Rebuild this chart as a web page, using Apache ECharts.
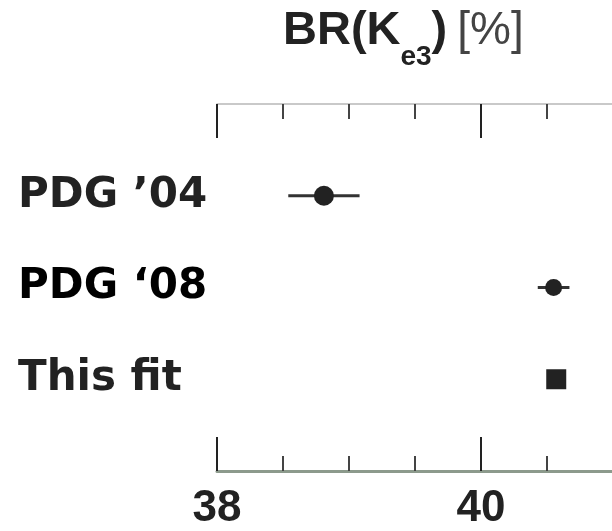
<!DOCTYPE html>
<html>
<head>
<meta charset="utf-8">
<script src="https://cdn.jsdelivr.net/npm/echarts@6/dist/echarts.min.js"></script>
<style>
  html, body { margin: 0; padding: 0; background: #fff; }
  #chart { width: 612px; height: 531px; }
</style>
</head>
<body>
<div id="chart"></div>
<script>
// Measurements of BR(K_e3), in percent
const categories = ['PDG \u201904', 'PDG \u201808', 'This fit'];
const values = [38.81, 40.55, 40.57];
const errors = [0.27, 0.12, 0];
const markerShapes = ['circle', 'circle', 'rect'];
const markerSizes = [20, 17, 20];
const xTickLabels = ['38', '40'];

const chart = echarts.init(document.getElementById('chart'), null, { renderer: 'canvas' });

const pointData = values.map((v, i) => ({
  value: [v, i + 1],
  symbol: markerShapes[i],
  symbolSize: markerSizes[i]
}));
const barData = values.map((v, i) => [v, i + 1, errors[i]]);

const xAxisBase = {
  type: 'value',
  min: 38,
  max: 42,
  interval: 2,
  splitLine: { show: false },
  axisTick: { show: true, inside: true, length: 34, lineStyle: { color: '#222', width: 2 } },
  minorTick: { show: true, splitNumber: 4, length: 15, lineStyle: { color: '#444', width: 2 } },
  minorSplitLine: { show: false }
};

chart.setOption({
  animation: false,
  backgroundColor: '#fff',
  title: {
    text: '{b|BR(K}{s|e3}{b|)}  {r|[%]}',
    left: 283,
    top: 8,
    padding: 0,
    textStyle: {
      rich: {
        b: { fontFamily: 'Liberation Sans', fontWeight: 'bold', fontSize: 47, lineHeight: 47, color: '#222' },
        s: { fontFamily: 'Liberation Sans', fontWeight: 'bold', fontSize: 28, lineHeight: 28, color: '#222', padding: [52, 0, 0, 0] },
        r: { fontFamily: 'Liberation Sans', fontWeight: 'normal', fontSize: 46, lineHeight: 47, color: '#444' }
      }
    }
  },
  grid: { left: 217, top: 104, width: 528, height: 367, containLabel: false, outerBoundsMode: 'none' },
  xAxis: [
    Object.assign({}, xAxisBase, {
      position: 'top',
      axisLine: { show: true, lineStyle: { color: '#b8b8b8', width: 1.5 } },
      axisLabel: { show: false }
    }),
    Object.assign({}, xAxisBase, {
      position: 'bottom',
      axisLine: { show: true, lineStyle: { color: '#8c9a8c', width: 3 } },
      axisLabel: {
        show: true,
        margin: 16,
        fontFamily: 'Liberation Sans',
        fontWeight: 'bold',
        fontSize: 44,
        color: '#222',
        formatter: (v) => xTickLabels.includes(String(v)) ? String(v) : ''
      }
    })
  ],
  yAxis: {
    type: 'value',
    min: 0,
    max: 4,
    interval: 1,
    inverse: true,
    axisLine: { show: false },
    axisTick: { show: false },
    splitLine: { show: false },
    axisLabel: {
      show: true,
      align: 'left',
      margin: 199,
      formatter: (v) => {
        const name = categories[v - 1];
        if (!name) return '';
        return v === 2 ? '{k|' + name + '}' : '{g|' + name + '}';
      },
      rich: {
        g: { fontFamily: 'DejaVu Sans', fontWeight: 'bold', fontSize: 42, color: '#222' },
        k: { fontFamily: 'DejaVu Sans', fontWeight: 'bold', fontSize: 42, color: '#000' }
      }
    }
  },
  series: [
    {
      type: 'custom',
      xAxisIndex: 1,
      data: barData,
      z: 2,
      renderItem: (params, api) => {
        const v = api.value(0), y = api.value(1), e = api.value(2);
        if (!e) return null;
        const p1 = api.coord([v - e, y]);
        const p2 = api.coord([v + e, y]);
        return {
          type: 'line',
          shape: { x1: p1[0], y1: p1[1], x2: p2[0], y2: p2[1] },
          style: { stroke: '#333', lineWidth: 3 }
        };
      }
    },
    {
      type: 'scatter',
      xAxisIndex: 1,
      data: pointData,
      z: 3,
      itemStyle: { color: '#222', opacity: 1 }
    }
  ]
});
</script>
</body>
</html>
